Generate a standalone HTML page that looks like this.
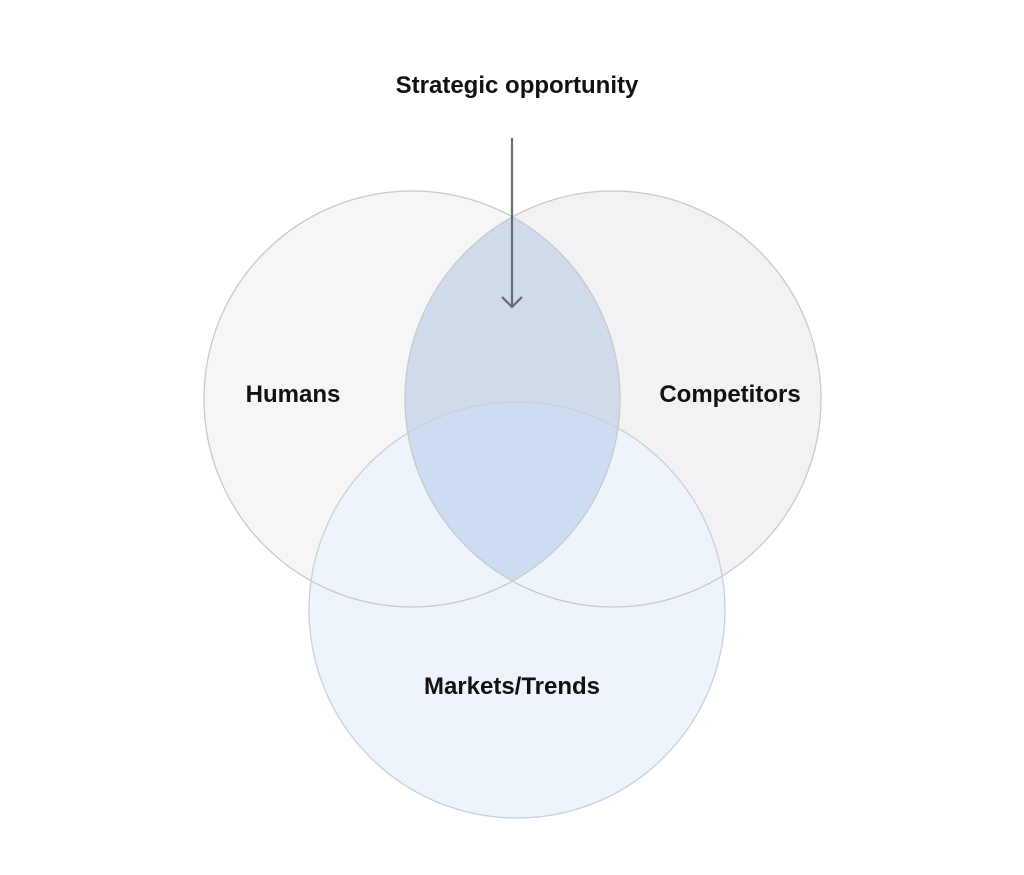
<!DOCTYPE html>
<html><head><meta charset="utf-8"><style>
html,body{margin:0;padding:0;background:#fff;width:1024px;height:875px;overflow:hidden}
svg{display:block}
text{font-family:"Liberation Sans",Arial,sans-serif;font-weight:bold;font-size:24px;fill:#111}
</style></head><body>
<svg width="1024" height="875" viewBox="0 0 1024 875">
<defs>
<clipPath id="ch"><circle cx="412" cy="399" r="208"/></clipPath>
</defs>
<circle cx="412" cy="399" r="208" fill="#f6f6f6"/>
<circle cx="613" cy="399" r="208" fill="#f3f1f3"/>
<circle cx="517" cy="610" r="208" fill="#eef4fb"/>
<circle cx="613" cy="399" r="208" fill="rgb(160,186,224)" fill-opacity="0.42" clip-path="url(#ch)"/>
<g fill="none" stroke="#c9c9cc" stroke-width="1.3">
<circle cx="412" cy="399" r="208"/>
<circle cx="613" cy="399" r="208"/>
<circle cx="517" cy="610" r="208" stroke="#c8d0da"/>
</g>
<line x1="512" y1="138" x2="512" y2="306" stroke="#666c70" stroke-width="2.2"/>
<polyline points="502,297 512,307 522,297" fill="none" stroke="#666c70" stroke-width="2.2"/>
<text x="517" y="93" text-anchor="middle">Strategic opportunity</text>
<text x="293" y="402" text-anchor="middle">Humans</text>
<text x="730" y="402" text-anchor="middle">Competitors</text>
<text x="512" y="694" text-anchor="middle">Markets/Trends</text>
</svg>
</body></html>
